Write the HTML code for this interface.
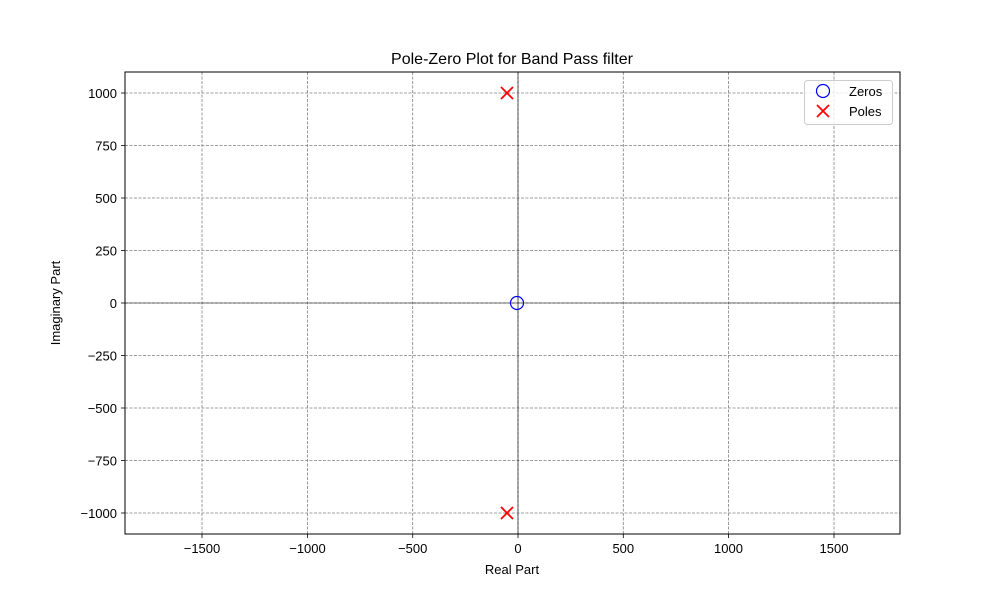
<!DOCTYPE html>
<html><head><meta charset="utf-8"><style>body{margin:0;background:#fff}svg{display:block}text{font-family:"Liberation Sans","DejaVu Sans",sans-serif}</style></head>
<body>
<svg width="1000" height="600" viewBox="0 0 1000 600" xmlns="http://www.w3.org/2000/svg">
<rect width="1000" height="600" fill="#fff"/>
<g stroke="#808080" stroke-width="0.8" stroke-dasharray="3,1.5">
<line x1="202" y1="72" x2="202" y2="534"/><line x1="307.5" y1="72" x2="307.5" y2="534"/><line x1="412.7" y1="72" x2="412.7" y2="534"/><line x1="518" y1="72" x2="518" y2="534"/><line x1="623.3" y1="72" x2="623.3" y2="534"/><line x1="728.5" y1="72" x2="728.5" y2="534"/><line x1="834" y1="72" x2="834" y2="534"/>
<line x1="125" y1="93" x2="900" y2="93"/><line x1="125" y1="145.5" x2="900" y2="145.5"/><line x1="125" y1="198" x2="900" y2="198"/><line x1="125" y1="250.5" x2="900" y2="250.5"/><line x1="125" y1="303" x2="900" y2="303"/><line x1="125" y1="355.5" x2="900" y2="355.5"/><line x1="125" y1="408" x2="900" y2="408"/><line x1="125" y1="460.5" x2="900" y2="460.5"/><line x1="125" y1="513" x2="900" y2="513"/>
</g>
<line x1="518" y1="72" x2="518" y2="534" stroke="#000" stroke-width="0.6"/>
<line x1="125" y1="303" x2="900" y2="303" stroke="#000" stroke-width="0.6"/>
<rect x="125" y="72" width="775" height="462" fill="none" stroke="#000" stroke-width="1"/>
<g stroke="#000" stroke-width="0.8">
<line x1="202" y1="534" x2="202" y2="538"/><line x1="307.5" y1="534" x2="307.5" y2="538"/><line x1="412.7" y1="534" x2="412.7" y2="538"/><line x1="518" y1="534" x2="518" y2="538"/><line x1="623.3" y1="534" x2="623.3" y2="538"/><line x1="728.5" y1="534" x2="728.5" y2="538"/><line x1="834" y1="534" x2="834" y2="538"/>
<line x1="121" y1="93" x2="125" y2="93"/><line x1="121" y1="145.5" x2="125" y2="145.5"/><line x1="121" y1="198" x2="125" y2="198"/><line x1="121" y1="250.5" x2="125" y2="250.5"/><line x1="121" y1="303" x2="125" y2="303"/><line x1="121" y1="355.5" x2="125" y2="355.5"/><line x1="121" y1="408" x2="125" y2="408"/><line x1="121" y1="460.5" x2="125" y2="460.5"/><line x1="121" y1="513" x2="125" y2="513"/>
</g>
<g font-size="13" text-anchor="middle" fill="#000">
<text x="202" y="553">−1500</text><text x="307.5" y="553">−1000</text><text x="412.7" y="553">−500</text><text x="518" y="553">0</text><text x="623.3" y="553">500</text><text x="728.5" y="553">1000</text><text x="834" y="553">1500</text>
</g>
<g font-size="13" text-anchor="end" fill="#000">
<text x="117" y="98">1000</text><text x="117" y="150.5">750</text><text x="117" y="203">500</text><text x="117" y="255.5">250</text><text x="117" y="308">0</text><text x="117" y="360.5">−250</text><text x="117" y="413">−500</text><text x="117" y="465.5">−750</text><text x="117" y="518">−1000</text>
</g>
<text x="512" y="574" font-size="13" text-anchor="middle">Real Part</text>
<text transform="translate(60,303) rotate(-90)" font-size="13" text-anchor="middle">Imaginary Part</text>
<text x="512" y="64" font-size="16" text-anchor="middle">Pole-Zero Plot for Band Pass filter</text>
<circle cx="517" cy="303" r="6.5" fill="none" stroke="#0000ff" stroke-width="1.2"/>
<g stroke="#ff0000" stroke-width="1.8">
<line x1="501" y1="87" x2="513" y2="99"/><line x1="513" y1="87" x2="501" y2="99"/>
<line x1="501" y1="507" x2="513" y2="519"/><line x1="513" y1="507" x2="501" y2="519"/>
</g>
<rect x="804.5" y="80.5" width="88" height="44" rx="3" fill="#fff" fill-opacity="0.8" stroke="#ccc"/>
<circle cx="823" cy="91" r="6.5" fill="none" stroke="#0000ff" stroke-width="1.2"/>
<g stroke="#ff0000" stroke-width="1.8"><line x1="817" y1="105" x2="829" y2="117"/><line x1="829" y1="105" x2="817" y2="117"/></g>
<text x="849" y="96" font-size="13">Zeros</text>
<text x="849" y="116" font-size="13">Poles</text>
</svg>
</body></html>
